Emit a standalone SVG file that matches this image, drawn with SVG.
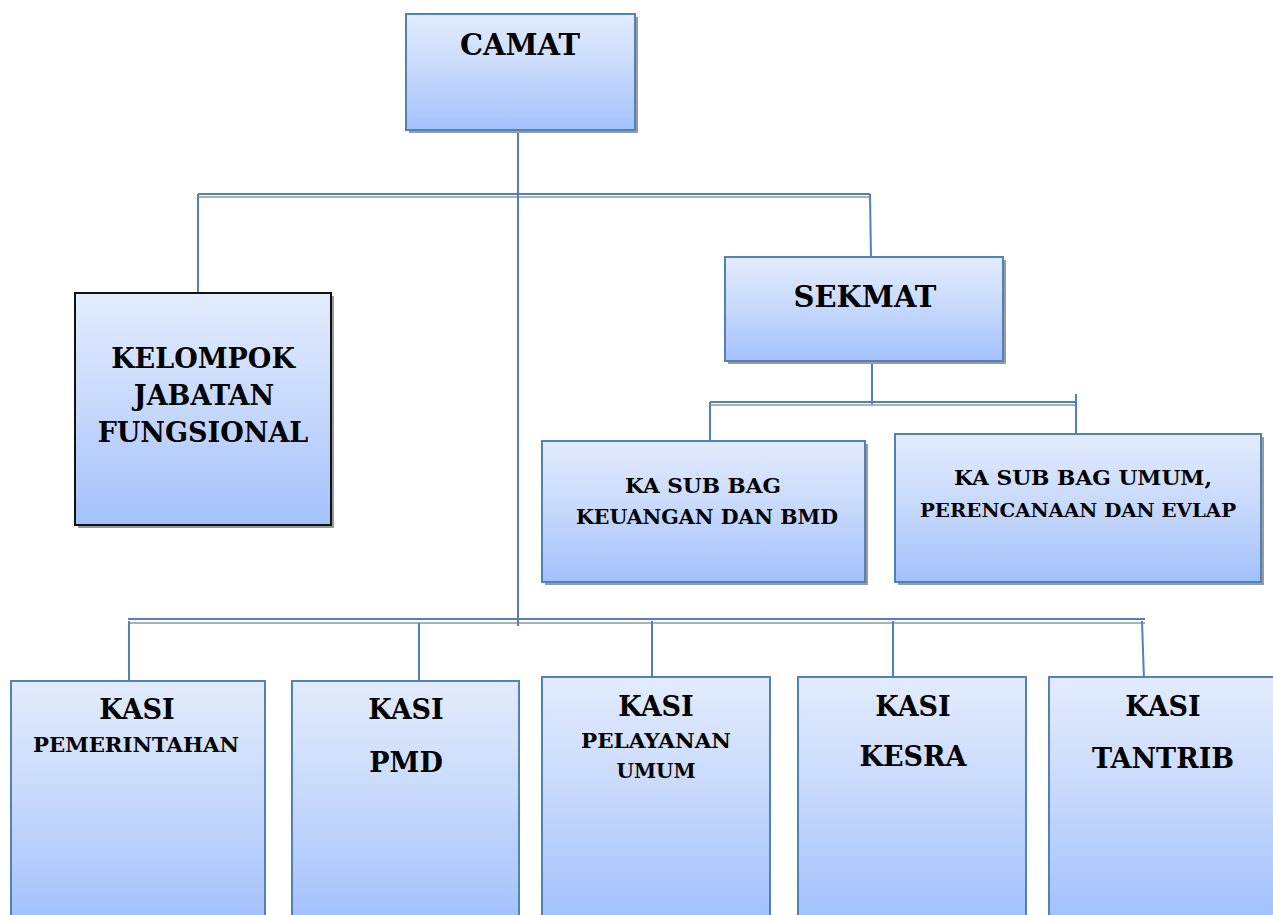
<svg xmlns="http://www.w3.org/2000/svg" width="1273" height="915" viewBox="0 0 1273 915">
<defs>
<linearGradient id="g" x1="0" y1="0" x2="0" y2="1">
<stop offset="0" stop-color="#e3ecfd"/>
<stop offset="0.5" stop-color="#c6d8fb"/>
<stop offset="1" stop-color="#a2c1fb"/>
</linearGradient>
<style>
.box{fill:url(#g);stroke:#4f81bd;stroke-width:2}
.boxk{fill:url(#g);stroke:#111;stroke-width:2}
.sh{fill:#9a9a9a}
.t{font-family:"DejaVu Serif","Liberation Serif",serif;font-weight:bold;fill:#000;text-anchor:middle}
.c{stroke:#4f81bd;stroke-width:2;fill:none}
.cg{stroke:#b0b0b0;stroke-width:2;fill:none}
</style>
</defs>
<rect width="1273" height="915" fill="#fff"/>
<g id="connectors">
<line class="cg" x1="198" y1="197" x2="870" y2="197"/>
<line class="c" x1="198" y1="194" x2="870" y2="194"/>
<line class="c" x1="198" y1="194" x2="198" y2="296"/>
<line class="c" x1="870" y1="194" x2="871" y2="258"/>
<line class="cg" x1="710" y1="405" x2="1076" y2="405"/>
<line class="c" x1="710" y1="402" x2="1076" y2="402"/>
<line class="c" x1="872" y1="361" x2="872" y2="404"/>
<line class="c" x1="710" y1="402" x2="710" y2="442"/>
<line class="c" x1="1076" y1="394" x2="1076" y2="435"/>
<line class="cg" x1="128" y1="623" x2="1145" y2="623"/>
<line class="c" x1="128" y1="619" x2="1145" y2="619"/>
<line class="c" x1="518" y1="126" x2="518" y2="626"/>
<line class="c" x1="129" y1="621" x2="129" y2="682"/>
<line class="c" x1="419" y1="623" x2="419" y2="686"/>
<line class="c" x1="652" y1="621" x2="652" y2="686"/>
<line class="c" x1="893" y1="621" x2="893" y2="680"/>
<line class="c" x1="1142" y1="621" x2="1144" y2="680"/>
</g>
<g id="camat">
<rect class="sh" x="409" y="17" width="229" height="116"/>
<rect class="box" x="406" y="14" width="229" height="116"/>
<text class="t" x="520" y="55" font-size="29">CAMAT</text>
</g>
<g id="kelompok">
<rect class="sh" x="78" y="296" width="256" height="232"/>
<rect class="boxk" x="75" y="293" width="256" height="232"/>
<text class="t" x="203" y="368" font-size="27">KELOMPOK</text>
<text class="t" x="204" y="405" font-size="27">JABATAN</text>
<text class="t" x="203" y="442" font-size="27">FUNGSIONAL</text>
</g>
<g id="sekmat">
<rect class="sh" x="728" y="260" width="278" height="104"/>
<rect class="box" x="725" y="257" width="278" height="104"/>
<text class="t" x="865" y="307" font-size="29">SEKMAT</text>
</g>
<g id="keuangan">
<rect class="sh" x="545" y="444" width="323" height="141"/>
<rect class="box" x="542" y="441" width="323" height="141"/>
<text class="t" x="703" y="493" font-size="21" textLength="156" lengthAdjust="spacingAndGlyphs">KA SUB BAG</text>
<text class="t" x="707" y="524" font-size="21" textLength="262" lengthAdjust="spacingAndGlyphs">KEUANGAN DAN BMD</text>
</g>
<g id="umum">
<rect class="sh" x="898" y="437" width="366" height="148"/>
<rect class="box" x="895" y="434" width="366" height="148"/>
<text class="t" x="1083" y="485" font-size="21" textLength="258" lengthAdjust="spacingAndGlyphs">KA SUB BAG UMUM,</text>
<text class="t" x="1078" y="517" font-size="18" textLength="316" lengthAdjust="spacingAndGlyphs">PERENCANAAN DAN EVLAP</text>
</g>
<g id="pemerintahan">
<rect class="box" x="11" y="681" width="254" height="240"/>
<text class="t" x="137" y="719" font-size="27">KASI</text>
<text class="t" x="136" y="752" font-size="20" textLength="206" lengthAdjust="spacingAndGlyphs">PEMERINTAHAN</text>
</g>
<g id="pmd">
<rect class="box" x="292" y="681" width="227" height="240"/>
<text class="t" x="406" y="719" font-size="27">KASI</text>
<text class="t" x="406" y="772" font-size="27">PMD</text>
</g>
<g id="pelayanan">
<rect class="box" x="542" y="677" width="228" height="240"/>
<text class="t" x="656" y="716" font-size="27">KASI</text>
<text class="t" x="656" y="748" font-size="20" textLength="150" lengthAdjust="spacingAndGlyphs">PELAYANAN</text>
<text class="t" x="656" y="778" font-size="20" textLength="79" lengthAdjust="spacingAndGlyphs">UMUM</text>
</g>
<g id="kesra">
<rect class="box" x="798" y="677" width="228" height="240"/>
<text class="t" x="913" y="716" font-size="27">KASI</text>
<text class="t" x="913" y="766" font-size="27">KESRA</text>
</g>
<g id="tantrib">
<rect class="box" x="1049" y="677" width="230" height="240"/>
<text class="t" x="1163" y="716" font-size="27">KASI</text>
<text class="t" x="1163" y="768" font-size="27">TANTRIB</text>
</g>
</svg>
